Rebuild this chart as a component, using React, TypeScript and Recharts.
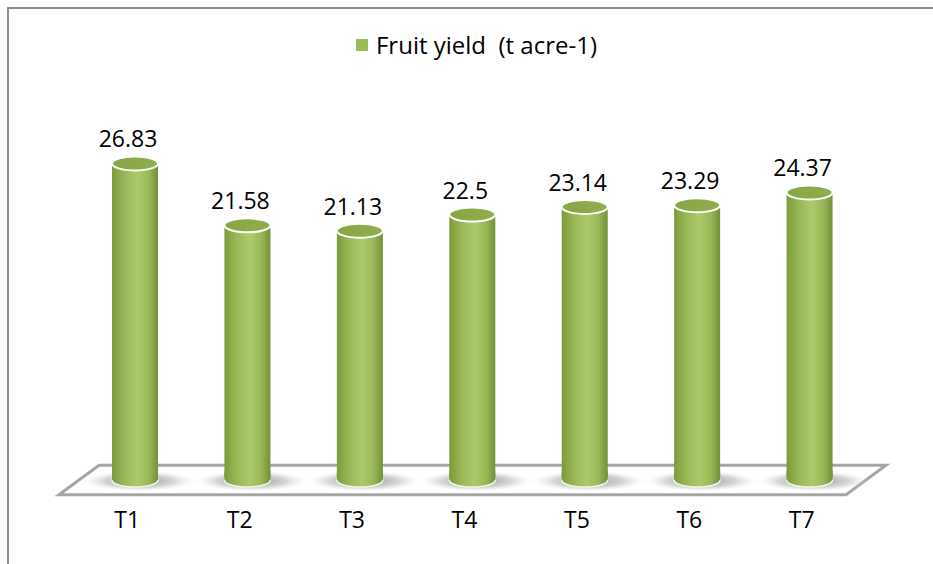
import React from 'react';
import { BarChart, Bar, XAxis, YAxis, LabelList, Legend, ReferenceArea } from 'recharts';

const categories = ['T1', 'T2', 'T3', 'T4', 'T5', 'T6', 'T7'];
const fruitYield = [26.83, 21.58, 21.13, 22.5, 23.14, 23.29, 24.37];
const seriesName = 'Fruit yield  (t acre-1)';

const data = categories.map((c, i) => ({ name: c, value: fruitYield[i] }));

const FONT = '"Open Sans", Lato, sans-serif';

const Cylinder = (props: any) => {
  const { x, y, width, height } = props;
  const cx = x + width / 2;
  const rx = width / 2;
  const ry = 7;
  const bottom = y + height;
  return (
    <g>
      <ellipse cx={cx + 4} cy={bottom + 1} rx={rx + 36} ry={11} fill="url(#shadowGrad)" />
      <rect x={x} y={y} width={width} height={height} fill="url(#bodyGrad)" />
      <ellipse cx={cx} cy={bottom} rx={rx} ry={ry} fill="url(#bodyGrad)" stroke="#f4f7ec" strokeWidth={1.5} />
      <rect x={x} y={bottom - ry - 2} width={width} height={ry + 2} fill="url(#bodyGrad)" />
      <ellipse cx={cx} cy={y} rx={rx} ry={ry} fill="url(#topGrad)" stroke="#ffffff" strokeWidth={2} />
    </g>
  );
};

const Floor = (props: any) => {
  const { x, y, width, height } = props;
  const skew = 20;
  const pts = [
    [x + skew, y],
    [x + width + skew, y],
    [x + width - skew, y + height],
    [x - skew, y + height],
  ]
    .map((p) => p.join(','))
    .join(' ');
  return <polygon points={pts} fill="#ffffff" stroke="#a6a6a6" strokeWidth={3} strokeLinejoin="miter" />;
};

const ValueLabel = (props: any) => {
  const { x, y, width, value } = props;
  return (
    <text x={x + width / 2 - 7} y={y - 16} textAnchor="middle" fontFamily={FONT} fontSize={23} fill="#000">
      {value}
    </text>
  );
};

const CatTick = (props: any) => {
  const { x, y, payload } = props;
  return (
    <text x={x - 8} y={y + 40} textAnchor="middle" fontFamily={FONT} fontSize={23} fill="#000">
      {payload.value}
    </text>
  );
};

const LegendContent = () => (
  <div style={{ display: 'flex', justifyContent: 'center', alignItems: 'center', fontFamily: FONT, fontSize: 24, color: '#000', lineHeight: '26px', paddingLeft: 20 }}>
    <span style={{ display: 'inline-block', width: 12, height: 12, background: '#9bbb59', marginRight: 8 }} />
    <span style={{ whiteSpace: 'pre' }}>{seriesName}</span>
  </div>
);

export default function App() {
  return (
    <div style={{ position: 'absolute', left: 0, top: 0, width: 933, height: 564, background: '#fff' }}>
      <div
        style={{
          position: 'absolute',
          left: 7,
          top: 7,
          width: 940,
          height: 600,
          borderLeft: '2px solid #8c8c8c',
          borderTop: '2px solid #8c8c8c',
        }}
      />
      <BarChart
        width={933}
        height={564}
        data={data}
        margin={{ top: 100, right: 67, bottom: 24, left: 79 }}
        barSize={46}
        style={{ position: 'absolute', left: 0, top: 0 }}
      >
        <defs>
          <linearGradient id="bodyGrad" x1="0" y1="0" x2="1" y2="0">
            <stop offset="0" stopColor="#7b9a3b" />
            <stop offset="0.25" stopColor="#97b756" />
            <stop offset="0.55" stopColor="#acca6b" />
            <stop offset="0.8" stopColor="#98b857" />
            <stop offset="1" stopColor="#71903a" />
          </linearGradient>
          <linearGradient id="topGrad" x1="0" y1="0" x2="1" y2="0">
            <stop offset="0" stopColor="#86a545" />
            <stop offset="1" stopColor="#90ae4e" />
          </linearGradient>
          <radialGradient id="shadowGrad" cx="0.5" cy="0.5" r="0.5">
            <stop offset="0" stopColor="#6f6f6f" stopOpacity={0.8} />
            <stop offset="0.6" stopColor="#9a9a9a" stopOpacity={0.4} />
            <stop offset="1" stopColor="#ffffff" stopOpacity={0} />
          </radialGradient>
        </defs>
        <XAxis dataKey="name" axisLine={false} tickLine={false} tick={<CatTick />} height={60} interval={0} />
        <YAxis hide domain={[0, 30]} />
        <ReferenceArea y1={-1.25} y2={1.25} ifOverflow="visible" shape={<Floor />} />
        <Legend verticalAlign="top" content={<LegendContent />} wrapperStyle={{ top: 32, left: 0, width: 933 }} />
        <Bar dataKey="value" name={seriesName} fill="#9bbb59" shape={<Cylinder />} isAnimationActive={false}>
          <LabelList dataKey="value" content={<ValueLabel />} />
        </Bar>
      </BarChart>
    </div>
  );
}
